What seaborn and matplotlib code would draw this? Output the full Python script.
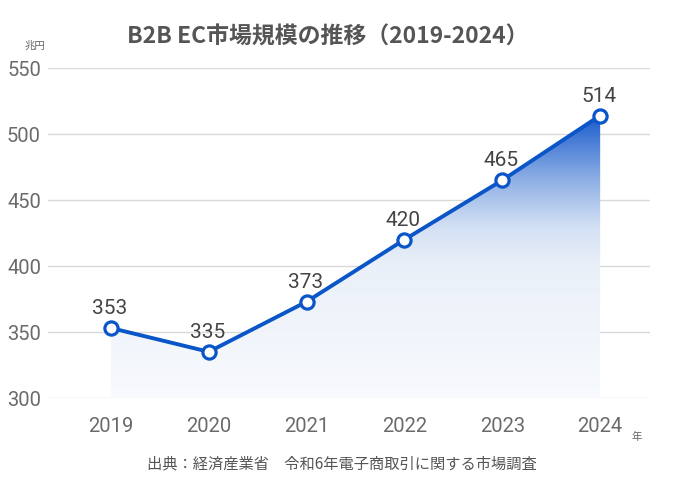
import numpy as np
import pandas as pd
import matplotlib
matplotlib.use("Agg")
import matplotlib.pyplot as plt
import seaborn as sns
from matplotlib.colors import LinearSegmentedColormap

years = ["2019", "2020", "2021", "2022", "2023", "2024"]
values = [353, 335, 373, 420, 465, 514]
yticks = [300, 350, 400, 450, 500, 550]
title = "B2B EC市場規模の推移（2019-2024）"
unit_label = "兆円"
year_label = "年"
source = "出典：経済産業省　令和6年電子商取引に関する市場調査"

sns.set_theme(style="white")
plt.rcParams['font.family'] = ['Noto Sans CJK JP', 'DejaVu Sans']

df = pd.DataFrame({"x": np.arange(len(years)), "year": years, "value": values})

fig = plt.figure(figsize=(6.85, 5.0), dpi=100)
ax = fig.add_axes([0.070, 0.204, 0.879, 0.660])

line_color = "#0a55c8"
ymin, ymax = 300, 550

# gradient fill
poly = ax.fill_between(df["x"], df["value"], ymin, color="none", lw=0)
cmap = LinearSegmentedColormap.from_list("g", [
    (0.0, "#f8fafd"), (0.467, "#eaf0f9"), (0.607, "#d3e0f4"),
    (0.771, "#8fb0e5"), (1.0, "#1a5ccc")])
top = max(values)
grad = np.linspace(0, 1, 256).reshape(-1, 1)
im = ax.imshow(grad, cmap=cmap, origin="lower", aspect="auto",
               extent=[0, len(years) - 1, ymin, top], zorder=1)
path = poly.get_paths()[0]
im.set_clip_path(path, transform=ax.transData)

sns.lineplot(data=df, x="x", y="value", ax=ax, color=line_color, lw=2.8,
             marker="o", markersize=9.5, markerfacecolor="white",
             markeredgecolor=line_color, markeredgewidth=2.3, zorder=3,
             clip_on=False)

for xi, v in zip(df["x"], df["value"]):
    ax.annotate(str(v), (xi, v), xytext=(-1, 7), textcoords="offset points",
                ha="center", va="bottom", fontsize=15, color="#444444",
                family=["Roboto", "DejaVu Sans"], zorder=4)

ax.set_xlim(-0.644, 5.51)
ax.set_ylim(ymin, ymax)
ax.set_yticks(yticks)
ax.set_yticklabels([str(t) for t in yticks], family=["Roboto", "DejaVu Sans"],
                   fontsize=14.5, color="#6a6a6a")
ax.set_xticks(df["x"])
ax.set_xticklabels(years, family=["Roboto", "DejaVu Sans"], fontsize=14.5,
                   color="#6a6a6a")
ax.tick_params(axis="y", length=0, pad=5)
ax.tick_params(axis="x", length=0, pad=14)
ax.grid(axis="y", color="#d9d9d9", lw=1)
ax.set_axisbelow(True)
for s in ax.spines.values():
    s.set_visible(False)
ax.set_xlabel("")
ax.set_ylabel("")

fig.text(0.479, 0.926, title, ha="center", va="center", fontsize=16.5,
         fontweight="bold", color="#555555")
fig.text(0.051, 0.909, unit_label, ha="center", va="center", fontsize=7.5,
         color="#666666")
fig.text(0.930, 0.126, year_label, ha="center", va="center", fontsize=7.5,
         color="#666666")
fig.text(0.499, 0.073, source, ha="center", va="center", fontsize=11,
         color="#555555")

fig.savefig("out.png", dpi=100)
